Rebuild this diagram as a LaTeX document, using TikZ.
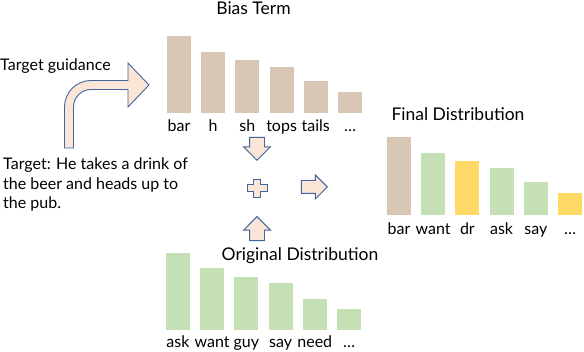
\documentclass[tikz,border=0pt]{standalone}
\usepackage{fontspec}
\setmainfont{Lato}
\usetikzlibrary{shapes.arrows,positioning}
\definecolor{tan}{HTML}{D7C6B4}
\definecolor{leaf}{HTML}{C5E0B4}
\definecolor{gold}{HTML}{FFD966}
\definecolor{peach}{HTML}{FBE5D6}
\definecolor{steel}{HTML}{41649F}

\begin{document}
\begin{tikzpicture}[x=1pt,y=-1pt,
  bar/.style={minimum width=24pt,inner sep=0pt,anchor=south},
  lbl/.style={font=\fontsize{16}{19.5}\selectfont,anchor=base,inner sep=0pt},
  txt/.style={font=\fontsize{16}{19.5}\selectfont,inner sep=0pt,align=left},
  ttl/.style={font=\fontsize{17.5}{20}\selectfont,inner sep=0pt},
  blk/.style={single arrow,draw=steel,fill=peach,line width=0.9pt,inner sep=7pt,
    single arrow head extend=6pt,anchor=tip}]
\useasboundingbox (0,0) rectangle (584,352);

% bias term
\node[ttl] (bias) at (253.5,8) {Bias Term};
\foreach \i/\h/\w in {1/77/bar,2/61/h,3/53/sh,4/46/tops,5/32/tails,6/21/\ldots}{
  \node[bar,fill=tan,minimum height=\h pt] (b\i) at ({179+34.2*(\i-1)},113) {};
  \node[lbl] (bl\i) at ([yshift=-19pt]b\i.south) {\w};
}

% original distribution
\node[ttl] (orig) at (300,256) {Original Distribution};
\foreach \i/\h/\w in {1/77/ask,2/62/want,3/53/guy,4/47/say,5/31/need,6/21/\ldots}{
  \node[bar,fill=leaf,minimum height=\h pt] (o\i) at ({178+34.2*(\i-1)},330) {};
  \node[lbl] (ol\i) at ([yshift=-18pt]o\i.south) {\w};
}

% final distribution
\node[ttl] (final) at (458,114) {Final Distribution};
\foreach \i/\h/\w/\c in {1/78/bar/tan,2/62/want/leaf,3/54/dr/gold,4/47/ask/leaf,
    5/33/say/leaf,6/22/\ldots/gold}{
  \node[bar,fill=\c,minimum height=\h pt] (f\i) at ({399+34.2*(\i-1)},215) {};
  \node[lbl] (fl\i) at ([yshift=-20pt]f\i.south) {\w};
}

% guidance text
\node[txt,anchor=base west] (guide) at (0,71) {Target guidance};
\node[txt,anchor=north west] (target) at (3,158)
  {Target: He takes a drink of\\the beer and heads up to\\the pub.};

% block arrows
\draw[steel,fill=peach,line width=0.9pt] (64.5,148) -- (64.5,107)
  arc[start angle=180,end angle=270,radius=26.5] -- (128,80.5) -- (128,63)
  -- (149,85) -- (128,107) -- (128,89.5) -- (91,89.5)
  arc[start angle=270,end angle=180,radius=17.5] -- (73.5,148) -- cycle;
\node[blk,minimum height=23pt,shape border rotate=270] (down) at (257,161) {};
\node[blk,minimum height=24pt,shape border rotate=90] (up) at (257,216) {};
\node[blk,minimum height=26pt,inner sep=6pt,single arrow head extend=5.5pt]
  (right) at (328,187) {};
\draw[steel,fill=peach,line width=0.9pt,shift={(257,188)}]
  (-3.5,-9) -- (3.5,-9) -- (3.5,-3.5) -- (10,-3.5) -- (10,3.5) -- (3.5,3.5)
  -- (3.5,9) -- (-3.5,9) -- (-3.5,3.5) -- (-10,3.5) -- (-10,-3.5) -- (-3.5,-3.5)
  -- cycle;
\end{tikzpicture}
\end{document}
